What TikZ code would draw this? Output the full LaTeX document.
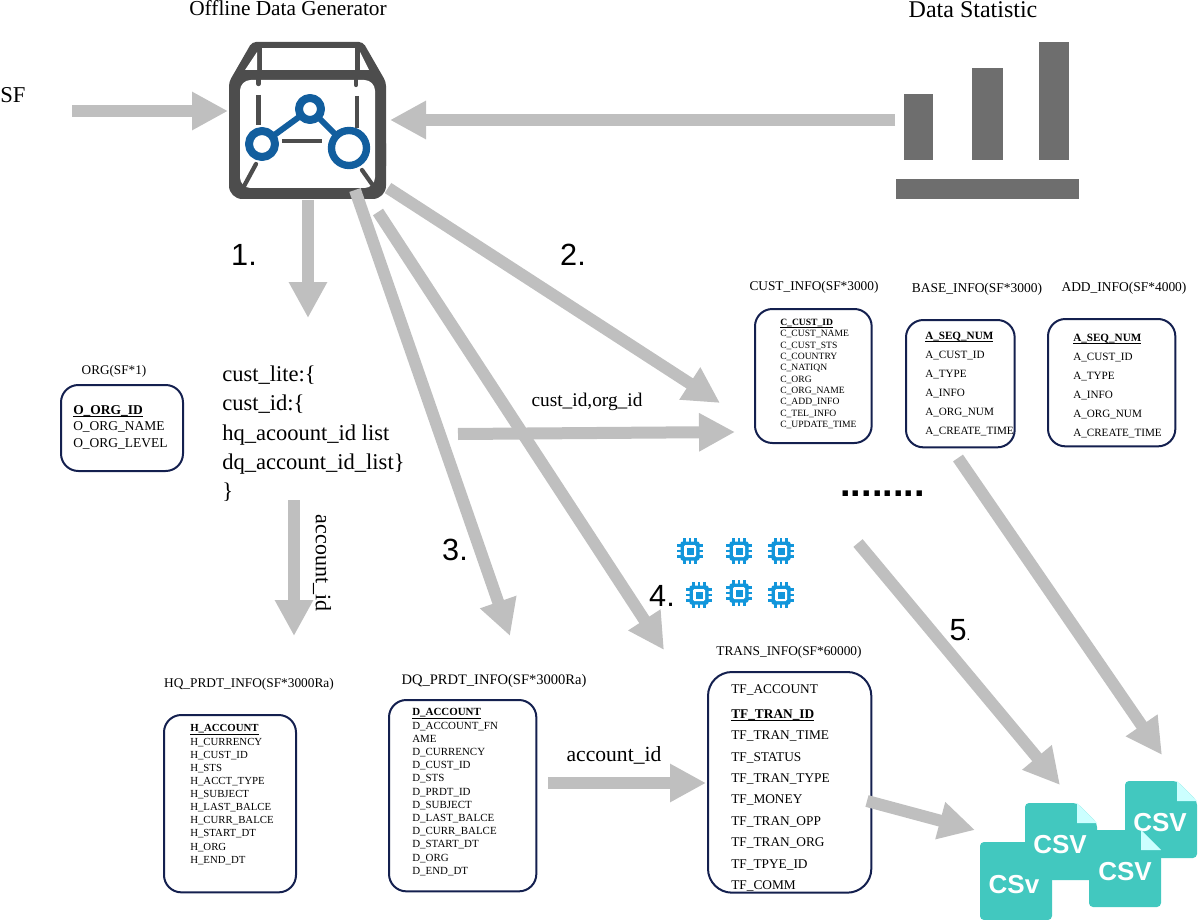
\documentclass[tikz,border=0pt]{standalone}
\usepackage{fontspec}
\setmainfont{Liberation Serif}
\newfontfamily\numfont{Liberation Sans}
\usetikzlibrary{arrows.meta}
\definecolor{arrowgray}{HTML}{BFBFBF}
\definecolor{boxnavy}{HTML}{14204F}
\definecolor{icondark}{HTML}{4D4D4D}
\definecolor{iconblue}{HTML}{125E9E}
\definecolor{bargray}{HTML}{6E6E6E}
\definecolor{chipblue}{HTML}{1296DB}
\definecolor{filecol}{HTML}{42C8BF}
\definecolor{foldcol}{HTML}{CCFFFF}
\newcommand{\fsz}[2]{\fontsize{#1}{#2}\selectfont}
\newcommand{\hd}[1]{\mbox{\vphantom{A}\underline{\smash{\textbf{#1}}}}}
\newcommand{\chipicon}[2]{%
  \begin{scope}[shift={(#1,#2)}]
    \foreach \p in {-5.5,0,5.5}{
      \draw[chipblue,line width=1.7pt] (\p,-13) -- (\p,13);
      \draw[chipblue,line width=1.7pt] (-13,\p) -- (13,\p);
    }
    \fill[chipblue,rounded corners=1.5pt] (-9.5,-9.5) rectangle (9.5,9.5);
    \fill[white,rounded corners=1pt] (-6,-6) rectangle (6,6);
    \fill[chipblue] (-3.5,-3.5) rectangle (3.5,3.5);
  \end{scope}}
\newcommand{\csvfile}[4]{% x0 y0 x1 y1
  \fill[filecol,rounded corners=3pt] (#1,#2) -- (#3-20,#2) -- (#3,#2+20) -- (#3,#4) -- (#1,#4) -- cycle;
}
\newcommand{\csvfold}[2]{% x right, y top
  \fill[foldcol] (#1-20,#2) -- (#1,#2+20) -- (#1-20,#2+20) -- cycle;
}
\tikzset{
  bigarrow/.style={draw=arrowgray,line width=9pt,-{Triangle[length=27pt,width=27pt]}},
  tablebox/.style={draw=boxnavy,line width=1.5pt,rounded corners=13pt,anchor=north west,inner sep=0pt,fill=white},
  tabletext/.style={anchor=north west,inner sep=0pt,align=left},
  tabletitle/.style={inner sep=0pt,font=\fsz{10}{11}},
  heading/.style={inner sep=0pt,font=\fsz{16}{18}},
  stepnum/.style={inner sep=0pt,font=\numfont\fsz{23}{26}},
  plainlabel/.style={inner sep=0pt,font=\fsz{14.5}{17}},
  csvlabel/.style={inner sep=0pt,text=white,font=\numfont\bfseries\fsz{19.5}{22}},
}
\begin{document}
\begin{tikzpicture}[x=0.75pt,y=-0.75pt]
\useasboundingbox (0,0) rectangle (1200,920);

% generator icon
\begin{scope}[line join=round]
  \fill[icondark,rounded corners=3pt] (252,42) -- (363,42) -- (386,82) -- (386,170) -- (229,170) -- (229,82) -- cycle;
  \fill[icondark,rounded corners=10pt] (229,130) rectangle (386,199);
  \fill[white,rounded corners=8pt] (240,80) rectangle (375,188);
  \fill[white] (262,48) rectangle (355,70);
  \fill[white] (257,52) -- (257,70) -- (245,70) -- cycle;
  \fill[white] (360,52) -- (360,70) -- (369,70) -- cycle;
  \draw[icondark,line width=3.2pt,line cap=round] (258.5,78) -- (258.5,84);
  \draw[icondark,line width=3.2pt,line cap=round] (356,78) -- (356,85);
  \draw[icondark,line width=3.2pt] (258.5,95) -- (258.5,125);
  \draw[icondark,line width=3.2pt] (357,96) -- (357,128);
  \draw[icondark,line width=3.2pt] (282,141) -- (322,141);
  \draw[icondark,line width=3.2pt,line cap=round] (243,188) -- (256,164);
  \draw[icondark,line width=3.2pt,line cap=round] (362,170) -- (374,187);
  \draw[white,line width=6.5pt] (262,144) -- (310,109) -- (349,148);
  \draw[iconblue,line width=4.5pt] (262,144) -- (310,109) -- (349,148);
  \filldraw[fill=white,draw=iconblue,line width=6pt] (262,144) circle (13);
  \filldraw[fill=white,draw=iconblue,line width=6pt] (310,109) circle (11);
  \filldraw[fill=white,draw=iconblue,line width=5.5pt] (349,148) circle (17.5);
\end{scope}

% statistics chart
\fill[bargray] (904,94) rectangle (933,160);
\fill[bargray] (972,68) rectangle (1003,160);
\fill[bargray] (1039,42) rectangle (1069,160);
\fill[bargray] (896,179) rectangle (1079,199);

% headings
\node[heading] (genlabel) at (288,8) {Offline Data Generator};
\node[heading,font=\fsz{18}{20}] (statlabel) at (973,10) {Data Statistic};
\node[heading,anchor=west,font=\fsz{17}{20}] (sflabel) at (0,95) {SF};

% tables
\node[tablebox,minimum width=91.5pt,minimum height=64.5pt] (org) at (60,384) {};
\node[tablebox,minimum width=87.5pt,minimum height=100.5pt] (cust) at (754,308) {};
\node[tablebox,minimum width=81.5pt,minimum height=95.5pt] (base) at (905,319) {};
\node[tablebox,minimum width=95.5pt,minimum height=95.5pt] (add) at (1047,318) {};
\node[tablebox,minimum width=99pt,minimum height=133pt] (hq) at (163,714) {};
\node[tablebox,minimum width=110.5pt,minimum height=143.5pt] (dq) at (388,699) {};
\node[tablebox,minimum width=122.5pt,minimum height=165.5pt,rounded corners=18pt] (trans) at (707,671) {};

\node[tabletitle,font=\fsz{9.9}{11}] (orgtitle) at (114,371) {ORG(SF*1)};
\node[tabletitle] (custtitle) at (814,287) {CUST\_INFO(SF*3000)};
\node[tabletitle,font=\fsz{10.1}{11}] (basetitle) at (977,289) {BASE\_INFO(SF*3000)};
\node[tabletitle,font=\fsz{10.1}{11}] (addtitle) at (1124,288) {ADD\_INFO(SF*4000)};
\node[tabletitle] (hqtitle) at (249,684) {HQ\_PRDT\_INFO(SF*3000Ra)};
\node[tabletitle,font=\fsz{10.9}{12}] (dqtitle) at (494,681) {DQ\_PRDT\_INFO(SF*3000Ra)};
\node[tabletitle] (transtitle) at (789,652) {TRANS\_INFO(SF*60000)};

\node[tabletext,font=\fsz{10.1}{12.2}] (orgtext) at (73,405.5) {\hd{O\_ORG\_ID}\\O\_ORG\_NAME\\O\_ORG\_LEVEL};
\node[tabletext,font=\fsz{7.2}{8.48}] (custtext) at (780,319) {\hd{C\_CUST\_ID}\\C\_CUST\_NAME\\C\_CUST\_STS\\C\_COUNTRY\\C\_NATIQN\\C\_ORG\\C\_ORG\_NAME\\C\_ADD\_INFO\\C\_TEL\_INFO\\C\_UPDATE\_TIME};
\node[tabletext,font=\fsz{8.35}{14.2}] (basetext) at (925,332) {\hd{A\_SEQ\_NUM}\\A\_CUST\_ID\\A\_TYPE\\A\_INFO\\A\_ORG\_NUM\\A\_CREATE\_TIME};
\node[tabletext,font=\fsz{8.35}{14.2}] (addtext) at (1073,334) {\hd{A\_SEQ\_NUM}\\A\_CUST\_ID\\A\_TYPE\\A\_INFO\\A\_ORG\_NUM\\A\_CREATE\_TIME};
\node[tabletext,font=\fsz{8.1}{9.85}] (hqtext) at (190,724.5) {\hd{H\_ACCOUNT}\\H\_CURRENCY\\H\_CUST\_ID\\H\_STS\\H\_ACCT\_TYPE\\H\_SUBJECT\\H\_LAST\_BALCE\\H\_CURR\_BALCE\\H\_START\_DT\\H\_ORG\\H\_END\_DT};
\node[tabletext,font=\fsz{8.2}{9.9}] (dqtext) at (412,708.5) {\hd{D\_ACCOUNT}\\D\_ACCOUNT\_FN\\AME\\D\_CURRENCY\\D\_CUST\_ID\\D\_STS\\D\_PRDT\_ID\\D\_SUBJECT\\D\_LAST\_BALCE\\D\_CURR\_BALCE\\D\_START\_DT\\D\_ORG\\D\_END\_DT};
\node[tabletext,font=\fsz{10}{16.05}] (transtext) at (731,684.5) {TF\_ACCOUNT\\[2.5pt]\hd{TF\_TRAN\_ID}\\TF\_TRAN\_TIME\\TF\_STATUS\\TF\_TRAN\_TYPE\\TF\_MONEY\\TF\_TRAN\_OPP\\TF\_TRAN\_ORG\\TF\_TPYE\_ID\\TF\_COMM};

\node[tabletext,font=\fsz{16.9}{21.8}] (custlite) at (222,366) {cust\_lite:\{\\cust\_id:\{\\hq\_acoount\_id list\\dq\_account\_id\_list\}\\\}};

% labels
\node[plainlabel] (lblcustorg) at (587,402) {cust\_id,org\_id};
\node[plainlabel,font=\fsz{16.2}{18}] (lblacc) at (614,755) {account\_id};
\node[plainlabel,rotate=-90,font=\fsz{16.5}{18}] (lblaccv) at (322,563) {account\_id};
\node[stepnum] (n1) at (244,255) {1.};
\node[stepnum] (n2) at (573,255) {2.};
\node[stepnum] (n3) at (455,550) {3.};
\node[stepnum] (n4) at (662,596) {4.};
\node[stepnum] (n5) at (960,630) {5\fsz{10}{12}.};
\node[inner sep=0pt,font=\numfont\bfseries\fsz{28.4}{30}] (dots) at (882.5,494) {........};

% connector end points
\coordinate (sfout) at (72,111);
\coordinate (genin) at (228,111);
\coordinate (statout) at (895,120);
\coordinate (genstat) at (390,120);
\coordinate (gena) at (308,200);
\coordinate (lite) at (308,318);
\coordinate (genb) at (388,188);
\coordinate (custin) at (720,403);
\coordinate (genc) at (355,190);
\coordinate (dqin) at (510,636);
\coordinate (gend) at (378,212);
\coordinate (transin) at (664,650);
\coordinate (liteout) at (458,434);
\coordinate (custinb) at (735,432);
\coordinate (litedown) at (294,500);
\coordinate (hqin) at (294,636);
\coordinate (dqout) at (548,783);
\coordinate (transinb) at (706,783);
\coordinate (transout) at (867,801);
\coordinate (csvina) at (975,830);
\coordinate (dotsout) at (858,543);
\coordinate (csvinb) at (1060,785);
\coordinate (baseout) at (958,458);
\coordinate (csvinc) at (1162,755);

\draw[bigarrow] (sfout) -- (genin);
\draw[bigarrow] (statout) -- (genstat);
\draw[bigarrow] (gena) -- (lite);
\draw[bigarrow] (genb) -- (custin);
\draw[bigarrow] (genc) -- (dqin);
\draw[bigarrow] (gend) -- (transin);
\draw[bigarrow] (liteout) -- (custinb);
\draw[bigarrow] (litedown) -- (hqin);
\draw[bigarrow] (dqout) -- (transinb);
\draw[bigarrow] (transout) -- (csvina);
\draw[bigarrow] (dotsout) -- (csvinb);
\draw[bigarrow] (baseout) -- (csvinc);

% chips
\chipicon{690}{551}
\chipicon{739}{551}
\chipicon{781}{551}
\chipicon{699}{595}
\chipicon{739}{593}
\chipicon{781}{595}

% csv files
\csvfile{1125}{781}{1197}{858}
\csvfold{1197}{781}
\node[csvlabel] (csva) at (1160,823) {CSV};
\csvfile{980}{842}{1052}{920}
\csvfile{1025}{803}{1097}{880}
\csvfold{1097}{803}
\csvfile{1089}{830}{1161}{907}
\csvfold{1161}{830}
\node[csvlabel] (csvb) at (1060,845) {CSV};
\node[csvlabel] (csvc) at (1125,872) {CSV};
\node[csvlabel] (csvd) at (1014,885) {CSv};
\end{tikzpicture}
\end{document}
